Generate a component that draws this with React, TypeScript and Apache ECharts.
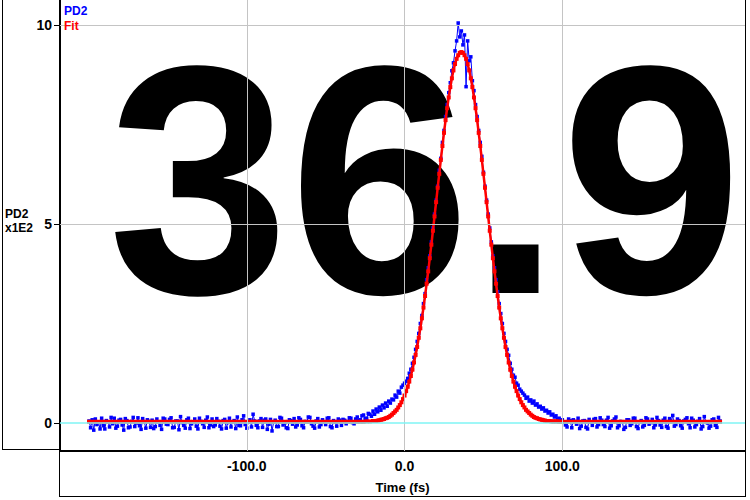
import React, { useEffect, useRef } from "react";
import * as echarts from "echarts";

// ---- PD2 measured signal (x1E2), sampled every 1 fs ----
const pd2TimeLeft = [
  -200, -199, -198, -197, -196, -195, -194, -193, -192, -191,
  -190, -189, -188, -187, -186, -185, -184, -183, -182, -181,
  -180, -179, -178, -177, -176, -175, -174, -173, -172, -171,
  -170, -169, -168, -167, -166, -165, -164, -163, -162, -161,
  -160, -159, -158, -157, -156, -155, -154, -153, -152, -151,
  -150, -149, -148, -147, -146, -145, -144, -143, -142, -141,
  -140, -139, -138, -137, -136, -135, -134, -133, -132, -131,
  -130, -129, -128, -127, -126, -125, -124, -123, -122, -121,
  -120, -119, -118, -117, -116, -115, -114, -113, -112, -111,
  -110, -109, -108, -107, -106, -105, -104, -103, -102, -101,
  -100, -99, -98, -97, -96, -95, -94, -93, -92, -91,
  -90, -89, -88, -87, -86, -85, -84, -83, -82, -81,
  -80, -79, -78, -77, -76, -75, -74, -73, -72, -71,
  -70, -69, -68, -67, -66, -65, -64, -63, -62, -61,
  -60, -59, -58, -57, -56, -55, -54, -53, -52, -51,
  -50, -49, -48, -47, -46, -45, -44, -43, -42, -41,
  -40, -39, -38, -37, -36, -35, -34, -33, -32, -31,
  -30, -29, -28, -27, -26, -25, -24, -23, -22, -21,
];
const pd2Left = [
  0.05, -0.12, 0.08, -0.18, 0.10, -0.04, 0.02, -0.15, 0.12, -0.07,
  -0.15, 0.06, 0.03, -0.10, 0.14, -0.02, 0.12, -0.13, -0.08, 0.07,
  0.09, -0.05, -0.18, 0.11, 0.06, -0.12, -0.10, 0.04, 0.14, -0.09,
  0.00, 0.13, -0.07, -0.16, 0.11, 0.03, -0.13, 0.08, 0.04, -0.11,
  0.07, -0.14, -0.09, 0.10, 0.02, -0.06, -0.16, 0.12, 0.10, -0.03,
  -0.04, 0.09, 0.13, -0.12, -0.11, 0.05, 0.05, -0.17, 0.16, 0.01,
  -0.06, -0.13, 0.08, 0.12, -0.14, -0.02, 0.03, 0.10, -0.08, -0.15,
  0.12, 0.04, -0.02, -0.11, 0.07, 0.15, -0.12, -0.05, 0.10, -0.09,
  -0.05, 0.11, 0.04, -0.08, -0.15, 0.06, 0.09, -0.13, 0.01, 0.12,
  -0.10, 0.03, 0.06, -0.14, 0.15, -0.06, -0.07, 0.08, 0.18, -0.04,
  -0.13, 0.02, 0.08, -0.10, 0.22, 0.05, -0.06, -0.12, 0.05, 0.11,
  -0.11, 0.07, 0.10, -0.16, -0.03, 0.09, -0.20, 0.02, 0.07, -0.09,
  -0.09, 0.14, 0.12, -0.05, 0.00, -0.12, -0.14, 0.08, 0.06, -0.03,
  0.11, -0.10, -0.05, 0.13, 0.09, -0.07, -0.12, 0.04, 0.03, 0.15,
  0.14, -0.02, -0.08, -0.13, 0.05, 0.11, -0.10, -0.04, 0.08, 0.02,
  -0.04, 0.12, 0.13, -0.09, -0.12, 0.06, 0.02, -0.08, 0.10, 0.07,
  -0.06, 0.09, 0.07, -0.02, 0.04, 0.13, 0.12, 0.01, -0.02, 0.10,
  0.15, 0.06, 0.08, 0.18, 0.20, 0.10, 0.12, 0.24, 0.22, 0.17,
];
const timeMid = [
  -20, -19, -18, -17, -16, -15, -14, -13, -12, -11,
  -10, -9, -8, -7, -6, -5, -4, -3, -2, -1,
  0, 1, 2, 3, 4, 5, 6, 7, 8, 9,
  10, 11, 12, 13, 14, 15, 16, 17, 18, 19,
  20, 21, 22, 23, 24, 25, 26, 27, 28, 29,
  30, 31, 32, 33, 34, 35, 36, 37, 38, 39,
  40, 41, 42, 43, 44, 45, 46, 47, 48, 49,
  50, 51, 52, 53, 54, 55, 56, 57, 58, 59,
  60, 61, 62, 63, 64, 65, 66, 67, 68, 69,
  70, 71, 72, 73, 74, 75, 76, 77, 78, 79,
  80, 81, 82, 83, 84, 85, 86, 87, 88, 89,
  90, 91, 92, 93, 94, 95, 96, 97, 98, 99,
  100,
];
const pd2Mid = [
  0.30, 0.22, 0.35, 0.28, 0.40, 0.32, 0.45, 0.38, 0.50, 0.42,
  0.55, 0.50, 0.60, 0.58, 0.70, 0.65, 0.80, 0.75, 0.90, 0.95,
  1.00, 1.05, 1.12, 1.25, 1.35, 1.50, 1.65, 1.85, 2.05, 2.25,
  2.50, 2.70, 3.00, 3.25, 3.60, 3.90, 4.20, 4.55, 4.90, 5.25,
  5.60, 5.95, 6.35, 6.65, 7.05, 7.35, 7.70, 8.00, 8.30, 8.55,
  8.85, 9.05, 9.35, 9.60, 10.05, 9.70, 9.85, 9.50, 9.75, 8.45,
  9.60, 9.10, 9.20, 8.60, 8.35, 8.00, 7.70, 7.35, 7.05, 6.70,
  6.30, 5.95, 5.60, 5.25, 4.90, 4.55, 4.20, 3.90, 3.60, 3.30,
  3.00, 2.75, 2.50, 2.25, 2.05, 1.85, 1.70, 1.50, 1.35, 1.20,
  1.15, 1.00, 0.95, 0.85, 0.80, 0.75, 0.70, 0.62, 0.65, 0.55,
  0.58, 0.50, 0.55, 0.45, 0.48, 0.40, 0.42, 0.35, 0.38, 0.30,
  0.32, 0.25, 0.28, 0.20, 0.22, 0.15, 0.18, 0.10, 0.12, 0.05,
  0.08,
];
const pd2TimeRight = [
  101, 102, 103, 104, 105, 106, 107, 108, 109, 110,
  111, 112, 113, 114, 115, 116, 117, 118, 119, 120,
  121, 122, 123, 124, 125, 126, 127, 128, 129, 130,
  131, 132, 133, 134, 135, 136, 137, 138, 139, 140,
  141, 142, 143, 144, 145, 146, 147, 148, 149, 150,
  151, 152, 153, 154, 155, 156, 157, 158, 159, 160,
  161, 162, 163, 164, 165, 166, 167, 168, 169, 170,
  171, 172, 173, 174, 175, 176, 177, 178, 179, 180,
  181, 182, 183, 184, 185, 186, 187, 188, 189, 190,
  191, 192, 193, 194, 195, 196, 197, 198, 199, 200,
];
const pd2Right = [
  0.02, -0.05, -0.10, 0.10, 0.06, -0.12, 0.08, 0.04, -0.03, 0.12,
  -0.14, -0.08, 0.05, 0.06, -0.11, -0.15, 0.09, 0.02, -0.06, 0.09,
  0.11, -0.10, -0.04, 0.13, 0.07, -0.04, -0.09, 0.07, 0.14, -0.13,
  -0.07, 0.05, 0.10, 0.15, -0.12, -0.07, 0.04, 0.03, -0.16, -0.11,
  0.08, 0.08, -0.06, -0.02, 0.12, 0.12, -0.09, -0.14, 0.03, 0.06,
  -0.10, -0.06, 0.13, 0.10, -0.03, 0.01, 0.09, -0.12, -0.05, 0.14,
  0.06, -0.05, -0.11, 0.07, 0.12, -0.09, -0.13, 0.11, 0.04, 0.19,
  -0.08, -0.04, 0.10, 0.06, -0.07, -0.13, 0.05, 0.09, 0.13, -0.02,
  -0.12, 0.12, 0.07, -0.10, -0.04, 0.04, 0.11, -0.15, -0.09, 0.16,
  0.03, 0.00, -0.13, -0.08, 0.08, 0.10, -0.06, -0.11, 0.14, 0.05,
];

// ---- Fit curve ----
const fitTimeLeft = [
  -200, -198, -196, -194, -192, -190, -188, -186, -184, -182,
  -180, -178, -176, -174, -172, -170, -168, -166, -164, -162,
  -160, -158, -156, -154, -152, -150, -148, -146, -144, -142,
  -140, -138, -136, -134, -132, -130, -128, -126, -124, -122,
  -120, -118, -116, -114, -112, -110, -108, -106, -104, -102,
  -100, -98, -96, -94, -92, -90, -88, -86, -84, -82,
  -80, -78, -76, -74, -72, -70, -68, -66, -64, -62,
  -60, -58, -56, -54, -52, -50, -48, -46, -44, -42,
  -40, -38, -36, -34, -32, -30, -28, -26, -24, -22,
];
const fitLeft = [
  0.03, 0.03, 0.03, 0.03, 0.03, 0.03, 0.03, 0.03, 0.03, 0.03,
  0.03, 0.03, 0.03, 0.03, 0.03, 0.03, 0.03, 0.03, 0.03, 0.03,
  0.03, 0.03, 0.03, 0.03, 0.03, 0.03, 0.03, 0.03, 0.03, 0.03,
  0.03, 0.03, 0.03, 0.03, 0.03, 0.03, 0.03, 0.03, 0.03, 0.03,
  0.03, 0.03, 0.03, 0.03, 0.03, 0.03, 0.03, 0.03, 0.03, 0.03,
  0.03, 0.03, 0.03, 0.03, 0.03, 0.03, 0.03, 0.03, 0.03, 0.03,
  0.03, 0.03, 0.03, 0.03, 0.03, 0.03, 0.03, 0.03, 0.03, 0.03,
  0.03, 0.03, 0.03, 0.03, 0.03, 0.03, 0.03, 0.03, 0.03, 0.03,
  0.03, 0.03, 0.03, 0.03, 0.03, 0.03, 0.03, 0.03, 0.04, 0.04,
];
const fitMid = [
  0.05, 0.05, 0.05, 0.06, 0.07, 0.08, 0.09, 0.10, 0.12, 0.13,
  0.15, 0.18, 0.21, 0.25, 0.29, 0.33, 0.39, 0.45, 0.52, 0.60,
  0.69, 0.80, 0.91, 1.04, 1.18, 1.34, 1.52, 1.71, 1.91, 2.14,
  2.38, 2.63, 2.90, 3.19, 3.50, 3.81, 4.14, 4.48, 4.83, 5.19,
  5.55, 5.91, 6.26, 6.61, 6.96, 7.29, 7.61, 7.91, 8.18, 8.44,
  8.66, 8.86, 9.02, 9.15, 9.24, 9.30, 9.32, 9.30, 9.24, 9.15,
  9.02, 8.86, 8.66, 8.44, 8.18, 7.91, 7.61, 7.29, 6.96, 6.61,
  6.26, 5.91, 5.55, 5.19, 4.83, 4.48, 4.14, 3.81, 3.50, 3.19,
  2.90, 2.63, 2.38, 2.14, 1.91, 1.71, 1.52, 1.34, 1.18, 1.04,
  0.91, 0.80, 0.69, 0.60, 0.52, 0.45, 0.39, 0.33, 0.29, 0.25,
  0.21, 0.18, 0.15, 0.13, 0.12, 0.10, 0.09, 0.08, 0.07, 0.06,
  0.05, 0.05, 0.05, 0.04, 0.04, 0.04, 0.04, 0.04, 0.03, 0.03,
  0.03,
];
const fitTimeRight = [
  102, 104, 106, 108, 110, 112, 114, 116, 118, 120,
  122, 124, 126, 128, 130, 132, 134, 136, 138, 140,
  142, 144, 146, 148, 150, 152, 154, 156, 158, 160,
  162, 164, 166, 168, 170, 172, 174, 176, 178, 180,
  182, 184, 186, 188, 190, 192, 194, 196, 198, 200,
];
const fitRight = [
  0.03, 0.03, 0.03, 0.03, 0.03, 0.03, 0.03, 0.03, 0.03, 0.03,
  0.03, 0.03, 0.03, 0.03, 0.03, 0.03, 0.03, 0.03, 0.03, 0.03,
  0.03, 0.03, 0.03, 0.03, 0.03, 0.03, 0.03, 0.03, 0.03, 0.03,
  0.03, 0.03, 0.03, 0.03, 0.03, 0.03, 0.03, 0.03, 0.03, 0.03,
  0.03, 0.03, 0.03, 0.03, 0.03, 0.03, 0.03, 0.03, 0.03, 0.03,
];

const xTicks = [-100, 0, 100];
const yTicks = [0, 5, 10];
const yGrid = [5, 10];
const fwhmText = "36.9";

const labelFont = "'Liberation Sans', Arial, sans-serif";

export default function App() {
  const ref = useRef<HTMLDivElement>(null);

  useEffect(() => {
    if (!ref.current) return;
    const chart = echarts.init(ref.current, null, { renderer: "svg" });
    const pd2Time = [...pd2TimeLeft, ...timeMid, ...pd2TimeRight];
    const pd2 = [...pd2Left, ...pd2Mid, ...pd2Right];
    const fitTime = [...fitTimeLeft, ...timeMid, ...fitTimeRight];
    const fit = [...fitLeft, ...fitMid, ...fitRight];
    const pd2Data = pd2Time.map((t, i) => [t, pd2[i]]);
    const fitData = fitTime.map((t, i) => [t, fit[i]]);

    const gridLines: any[] = [
      ...xTicks.map((v) => ({ xAxis: v, lineStyle: { color: "#c4c4c4", width: 1, type: "solid" } })),
      ...yGrid.map((v) => ({ yAxis: v, lineStyle: { color: "#c4c4c4", width: 1, type: "solid" } })),
      { yAxis: 0, lineStyle: { color: "#7ff5f5", width: 1.5, type: "solid" } },
    ];

    const frame = (x1: number, y1: number, x2: number, y2: number, w = 1) => ({
      type: "line",
      silent: true,
      z: 10,
      shape: { x1, y1, x2, y2 },
      style: { stroke: "#000", lineWidth: w },
    });

    chart.setOption({
      animation: false,
      backgroundColor: "#ffffff",
      grid: { left: 60, right: 5, top: 0, bottom: 49, containLabel: false },
      xAxis: {
        type: "value",
        min: -218.4,
        max: 215.8,
        axisLine: { show: true, onZero: false, lineStyle: { color: "#000", width: 2 } },
        axisTick: { show: false },
        splitLine: { show: false },
        axisLabel: {
          customValues: xTicks,
          formatter: (v: number) => v.toFixed(1),
          color: "#000",
          fontFamily: labelFont,
          fontWeight: "bold",
          fontSize: 14,
          margin: 8,
        },
        name: "Time (fs)",
        nameLocation: "middle",
        nameGap: 30,
        nameTextStyle: { color: "#000", fontFamily: labelFont, fontWeight: "bold", fontSize: 13 },
      },
      yAxis: {
        type: "value",
        min: -0.704,
        max: 10.628,
        axisLine: { show: true, onZero: false, lineStyle: { color: "#000", width: 2 } },
        axisTick: { show: true, customValues: yTicks, length: 6, lineStyle: { color: "#000", width: 1 } },
        splitLine: { show: false },
        axisLabel: {
          customValues: yTicks,
          color: "#000",
          fontFamily: labelFont,
          fontWeight: "bold",
          fontSize: 14,
          margin: 8,
        },
      },
      graphic: [
        {
          type: "text",
          z: 1,
          silent: true,
          x: 425,
          y: 180,
          style: {
            text: fwhmText,
            font: "bold 326px 'Liberation Sans', Arial, sans-serif",
            fill: "#000",
            textAlign: "center",
            textVerticalAlign: "middle",
            align: "center",
            verticalAlign: "middle",
          },
        },
        {
          type: "text",
          z: 10,
          x: 64,
          y: 5,
          style: { text: "PD2", font: "bold 12px 'Liberation Sans', Arial, sans-serif", fill: "#0000ff" },
        },
        {
          type: "text",
          z: 10,
          x: 64,
          y: 20,
          style: { text: "Fit", font: "bold 12px 'Liberation Sans', Arial, sans-serif", fill: "#ff0000" },
        },
        {
          type: "text",
          z: 10,
          x: 5,
          y: 208,
          style: { text: "PD2", font: "bold 12px 'Liberation Sans', Arial, sans-serif", fill: "#000" },
        },
        {
          type: "text",
          z: 10,
          x: 5,
          y: 222,
          style: { text: "x1E2", font: "bold 12px 'Liberation Sans', Arial, sans-serif", fill: "#000" },
        },
        frame(2.5, 0, 2.5, 449.5),
        frame(2, 449.5, 60, 449.5),
        frame(59.5, 451, 59.5, 496.5),
        frame(59, 496.5, 746, 496.5),
        frame(745.5, 0, 745.5, 497),
      ],
      series: [
        {
          name: "grid",
          type: "line",
          z: 0,
          data: [],
          silent: true,
          markLine: {
            silent: true,
            symbol: ["none", "none"],
            label: { show: false },
            animation: false,
            data: gridLines,
          },
        },
        {
          name: "PD2",
          type: "line",
          z: 3,
          data: pd2Data,
          symbol: "rect",
          symbolSize: 3.5,
          showSymbol: true,
          showAllSymbol: true,
          lineStyle: { color: "#0000ff", width: 1 },
          itemStyle: { color: "#0000ff" },
        },
        {
          name: "Fit",
          type: "line",
          z: 4,
          data: fitData,
          symbol: "rect",
          symbolSize: 4,
          showSymbol: true,
          showAllSymbol: true,
          lineStyle: { color: "#ff0000", width: 2.5 },
          itemStyle: { color: "#ff0000" },
        },
      ],
    });

    return () => chart.dispose();
  }, []);

  return (
    <div
      ref={ref}
      style={{ position: "absolute", left: 0, top: 0, width: 750, height: 500 }}
    />
  );
}
